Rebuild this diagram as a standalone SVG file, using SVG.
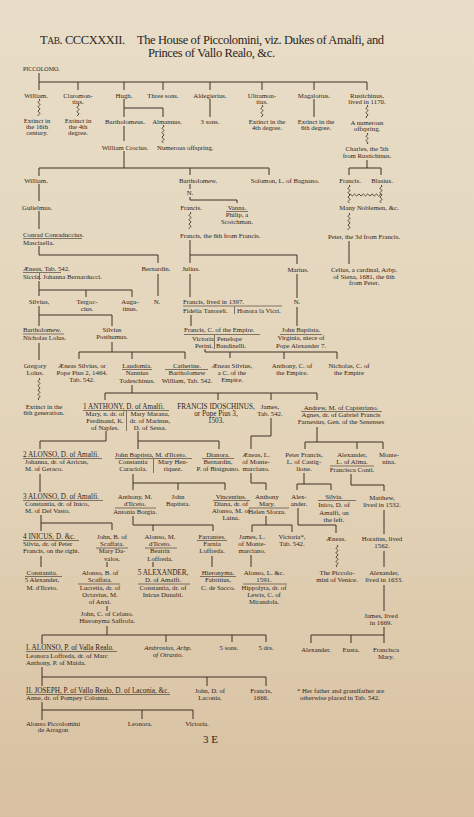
<svg xmlns="http://www.w3.org/2000/svg" xmlns:xlink="http://www.w3.org/1999/xlink" width="474" height="817" viewBox="0 0 474 817">
<style>
.t{font-family:"Liberation Serif","DejaVu Serif",serif;font-size:6.8px;fill:#2e251c;text-anchor:middle}
.s{text-anchor:start}
.i{font-style:italic}
.c{font-size:7.2px}
.ln{stroke:#3e3126;stroke-width:1;fill:none}
.u{stroke:#3e3126;stroke-width:0.6;fill:none}
.w{stroke:#3e3126;stroke-width:0.9;fill:none}
</style>
<defs>
<linearGradient id="bg" x1="0" y1="0" x2="0" y2="1">
<stop offset="0" stop-color="#e8ddc8"/>
<stop offset="0.55" stop-color="#e3d4b9"/>
<stop offset="1" stop-color="#d8c0a1"/>
</linearGradient>
<path id="wv" class="w" d="M2.5,0q2,1.1 0,2.2q-2,1.1 0,2.2q2,1.1 0,2.2q-2,1.1 0,2.2q2,1.1 0,2.2q-2,1.1 0,2.2q2,1.1 0,2.2q-2,1.1 0,2.2q2,1.1 0,2.2q-2,1.1 0,2.2q2,1.1 0,2.2q-2,1.1 0,2.2q2,1.1 0,2.2q-2,1.1 0,2.2q2,1.1 0,2.2q-2,1.1 0,2.2q2,1.1 0,2.2q-2,1.1 0,2.2q2,1.1 0,2.2q-2,1.1 0,2.2q2,1.1 0,2.2q-2,1.1 0,2.2"/>
<path id="wvh" class="w" d="M0,2.5q1.1,-2 2.2,0q1.1,2 2.2,0q1.1,-2 2.2,0q1.1,2 2.2,0q1.1,-2 2.2,0q1.1,2 2.2,0q1.1,-2 2.2,0q1.1,2 2.2,0q1.1,-2 2.2,0q1.1,2 2.2,0q1.1,-2 2.2,0q1.1,2 2.2,0q1.1,-2 2.2,0q1.1,2 2.2,0q1.1,-2 2.2,0q1.1,2 2.2,0"/>
</defs>
<rect width="474" height="817" fill="url(#bg)"/>

<g id="title">
<text class="t s" x="40" y="44" style="font-size:12.5px" textLength="85">T<tspan style="font-size:9.5px">AB</tspan>. CCCXXXII.</text>
<text class="t s" x="137" y="44" style="font-size:12.5px" textLength="247">The House of Piccolomini, viz. Dukes of Amalfi, and</text>
<text class="t s" x="148" y="57" style="font-size:12.5px" textLength="127">Princes of Vallo Realo, &amp;c.</text>
</g>

<g id="connectors">
<path class="ln" d="M39,73V82H367M39,82V90M78,82V90M124,82V90M163,82V90M210,82V90M262,82V90M314,82V90M367,82V90"/>
<path class="ln" d="M124,99V117M124,126V141M124,151V168M124,108H163V117M210,99V117M314,99V117M367,160V168"/>
<path class="ln" d="M39,168H269M39,168V176M190,168V175M269,168V175M349,168H381M349,168V175M381,168V175"/>
<path class="ln" d="M39,184V201M39,211V229M39,246V255H158V263M190,184V189M190,197V200H237V203M190,240V255H297V264M190,255V263M349,241V264"/>
<path class="ln" d="M39,281V296M39,290H132V297M86,290V297M158,274V296M190,274V297M297,274V298M297,307V326M191,315V326"/>
<path class="ln" d="M205,349V352H337M230,352V358M284,352V359M337,352V359"/>
<path class="ln" d="M39,306V326M39,315H112V326M39,343V360M112,342V352M79,352H185M79,352V359M132,352V359M185,352V359"/>
<path class="ln" d="M132,385V393M105,393H317M105,393V400M218,393V400M271,393V400M317,393V400"/>
<path class="ln" d="M106,431V441H40V449M138,431V449M138,441H219V449M317,427V442M305,442H383M305,442V449M357,442V449M383,442V449M271,418V436H251V449"/>
<path class="ln" d="M251,473V483H266V490M304,473V484M297,484H331M297,484V490M331,484V490M351,474V485H384V491M384,510V534"/>
<path class="ln" d="M40,474V492M133,474V490M133,483H225V490M178,483V490"/>
<path class="ln" d="M41,515V531M41,523H112V530M133,516V525H213V531M153,525V531M266,516V525M252,525H292M252,525V532M292,525V532M298,508V525H336V533"/>
<path class="ln" d="M41,556V567M107,562V567M153,562V567M212,556V567M251,555V567M384,551V567M384,585V611M384,627V643M311,635H384M311,635V643M351,635V643"/>
<path class="ln" d="M107,606V611M107,626V635M42,635H266M42,635V644M166,635V642M232,635V642M266,635V642"/>
<path class="ln" d="M42,667V686M42,677H266M207,677V686M266,677V686M42,702V720M42,710H193M142,710V719M193,710V719"/>
<svg x="36.5" y="99" width="5" height="17"><use xlink:href="#wv"/></svg>
<svg x="75.5" y="104" width="5" height="12"><use xlink:href="#wv"/></svg>
<svg x="160.5" y="125" width="5" height="18"><use xlink:href="#wv"/></svg>
<svg x="259.5" y="105" width="5" height="12"><use xlink:href="#wv"/></svg>
<svg x="364.5" y="105" width="5" height="13"><use xlink:href="#wv"/></svg>
<svg x="364.5" y="133" width="5" height="11"><use xlink:href="#wv"/></svg>
<svg x="187.5" y="212" width="5" height="17"><use xlink:href="#wv"/></svg>
<svg x="346.5" y="185" width="5" height="18"><use xlink:href="#wv"/></svg>
<svg x="378.5" y="185" width="5" height="18"><use xlink:href="#wv"/></svg>
<svg x="349" y="192.5" width="32" height="5"><use xlink:href="#wvh"/></svg>
<svg x="346.5" y="213" width="5" height="17"><use xlink:href="#wv"/></svg>
<svg x="36.5" y="378" width="5" height="22"><use xlink:href="#wv"/></svg>
<svg x="334.5" y="545" width="5" height="22"><use xlink:href="#wv"/></svg>
</g>

<g id="n-piccolomo"><text class="t s" x="23" y="70.5" style="font-size:6px">PICCOLOMO.</text></g>
<g id="n-william1"><text class="t" x="36" y="97.5">William.</text></g>
<g id="n-claromontius"><text class="t" x="78" y="97.5">Claromon-<tspan x="78" y="103.5">tius.</tspan></text></g>
<g id="n-hugh"><text class="t" x="124" y="97.5">Hugh.</text></g>
<g id="n-threesons"><text class="t" x="163" y="97.5">Three sons.</text></g>
<g id="n-aldegierius"><text class="t" x="210" y="97.5">Aldegierius.</text></g>
<g id="n-ultramontius"><text class="t" x="262" y="97.5">Ultramon-<tspan x="262" y="103.5">tius.</tspan></text></g>
<g id="n-magalottus"><text class="t" x="314" y="97.5">Magalottus.</text></g>
<g id="n-rustichinus"><text class="t" x="367" y="97.5">Rustichinus,<tspan x="367" y="103.5">lived in 1170.</tspan></text></g>

<g id="n-ext1"><text class="t" x="37" y="122.5">Extinct in<tspan x="37" y="128.5">the 16th</tspan><tspan x="37" y="134.5">century.</tspan></text></g>
<g id="n-ext2"><text class="t" x="78" y="122.5">Extinct in<tspan x="78" y="128.5">the 4th</tspan><tspan x="78" y="134.5">degree.</tspan></text></g>
<g id="n-bartholomeus"><text class="t" x="125" y="123.5">Bartholomeus.</text></g>
<g id="n-almannus"><text class="t" x="167" y="123.5">Almannus.</text></g>
<g id="n-3sons"><text class="t" x="210" y="123.5">3 sons.</text></g>
<g id="n-ext3"><text class="t" x="267" y="123.5">Extinct in the<tspan x="267" y="129.5">4th degree.</tspan></text></g>
<g id="n-ext4"><text class="t" x="316" y="123.5">Extinct in the<tspan x="316" y="129.5">6th degree.</tspan></text></g>
<g id="n-numerous1"><text class="t" x="367" y="124.5">A numerous<tspan x="367" y="130.5">offspring.</tspan></text></g>
<g id="n-crocius"><text class="t" x="125" y="149.5">William Crocius.</text></g>
<g id="n-numerous2"><text class="t s" x="157" y="149.5">Numerous offspring.</text></g>
<g id="n-charles"><text class="t" x="367" y="151">Charles, the 5th<tspan x="367" y="157.5">from Rustichinus.</tspan></text></g>

<g id="n-william2"><text class="t" x="36" y="182.5">William.</text></g>
<g id="n-bartholomew1"><text class="t s" x="179" y="182.5">Bartholomew.</text></g>
<g id="n-solomon"><text class="t" x="285" y="182.5">Solomon, L. of Bagnano.</text></g>
<g id="n-francis-r"><text class="t" x="350" y="182.5">Francis.</text></g>
<g id="n-blasius"><text class="t" x="382" y="182.5">Blasius.</text></g>
<g id="n-n1"><text class="t" x="190" y="195">N.</text></g>
<g id="n-gulielmus"><text class="t" x="37" y="209.5">Gulielmus.</text></g>
<g id="n-francis-b"><text class="t" x="191" y="209.5">Francis.</text></g>
<g id="n-vanna"><text class="t" x="237" y="209.5">Vanna.<tspan x="237" y="217">Philip, a</tspan><tspan x="237" y="224">Scotchman.</tspan></text><path class="u" d="M226,211.5H248"/></g>
<g id="n-noblemen"><text class="t" x="369" y="209.5">Many Noblemen, &amp;c.</text></g>
<g id="n-conrad"><text class="t s" x="23" y="236.5">Conrad Conraduccius.<tspan x="23" y="244.5">Masciaella.</tspan></text><path class="u" d="M23,238.5H82"/></g>
<g id="n-francis6"><text class="t s" x="180" y="237.5">Francis, the 6th from Francis.</text></g>
<g id="n-peter"><text class="t" x="364" y="238.5">Peter, the 3d from Francis.</text></g>

<g id="n-aeneas1"><text class="t s" x="23" y="270.5">Æneas, Tab. 542.<tspan x="23" y="278.5">Siccia.</tspan><tspan x="43" y="278.5">Johanna Bernarducci.</tspan></text><path class="u" d="M23,272.5H61M39.5,273V280"/></g>
<g id="n-bernardin"><text class="t" x="156" y="270.5">Bernardin.</text></g>
<g id="n-julius"><text class="t" x="191" y="270.5">Julius.</text></g>
<g id="n-marius"><text class="t" x="298" y="271.5">Marius.</text></g>
<g id="n-celius"><text class="t" x="364" y="271.5">Celius, a cardinal, Arbp.<tspan x="364" y="278.5">of Siena, 1681, the 6th</tspan><tspan x="364" y="285">from Peter.</tspan></text></g>

<g id="n-silvius"><text class="t" x="39" y="303.5">Silvius,</text></g>
<g id="n-tergoccius"><text class="t" x="87" y="304">Tergoc-<tspan x="87" y="311">cius.</tspan></text></g>
<g id="n-augustinus"><text class="t" x="130" y="304">Augu-<tspan x="130" y="311">tinus.</tspan></text></g>
<g id="n-n2"><text class="t" x="157" y="303.5">N.</text></g>
<g id="n-francis1397"><text class="t s" x="183" y="303.5">Francis, lived in 1397.<tspan x="183" y="312.5">Fidelia Tanoreli.</tspan><tspan x="237" y="312.5">Honora la Vicri.</tspan></text><path class="u" d="M183,306H282M234.5,306.5V314"/></g>
<g id="n-n3"><text class="t" x="297" y="304">N.</text></g>

<g id="n-bartholomew2"><text class="t s" x="23" y="331.5">Bartholomew.<tspan x="23" y="340">Nicholas Lolus.</tspan></text><path class="u" d="M23,334H64"/></g>
<g id="n-posthumus"><text class="t" x="112" y="331.5">Silvius<tspan x="112" y="339">Posthumus.</tspan></text></g>
<g id="n-francisC"><text class="t s" x="184" y="332">Francis, C. of the Empire.<tspan x="192" y="340.5">Victoria</tspan><tspan x="217" y="340.5">Penelope</tspan><tspan x="195" y="347.5">Perini.</tspan><tspan x="216" y="347.5">Bandinelli.</tspan></text><path class="u" d="M184,334.5H260M214.5,335V349"/></g>
<g id="n-johnbaptista1"><text class="t" x="301" y="332">John Baptista.<tspan x="301" y="340">Virginia, niece of</tspan><tspan x="301" y="347.5">Pope Alexander 7.</tspan></text><path class="u" d="M280,334.5H322"/></g>

<g id="n-gregory"><text class="t" x="35" y="367.5">Gregory<tspan x="35" y="374.5">Lolus.</tspan></text></g>
<g id="n-aeneas-pius"><text class="t" x="82" y="367.5">Æneas Silvius, or<tspan x="82" y="374.5">Pope Pius 2, 1464.</tspan><tspan x="82" y="382">Tab. 542.</tspan></text></g>
<g id="n-laudomia"><text class="t" x="137" y="367.5">Laudomia.<tspan x="137" y="375">Nannius</tspan><tspan x="137" y="382.5">Todeschinus.</tspan></text><path class="u" d="M122,369.5H152"/></g>
<g id="n-catherine"><text class="t" x="187" y="367.5">Catherine.<tspan x="187" y="375">Bartholomew</tspan><tspan x="187" y="382.5">William, Tab. 542.</tspan></text><path class="u" d="M165,369.5H208"/></g>
<g id="n-aeneas-c"><text class="t" x="232" y="367.5">Æneas Silvius,<tspan x="232" y="374.5">a C. of the</tspan><tspan x="232" y="382">Empire.</tspan></text></g>
<g id="n-anthonyC"><text class="t" x="292" y="367.5">Anthony, C. of<tspan x="292" y="374.5">the Empire.</tspan></text></g>
<g id="n-nicholasC"><text class="t" x="349" y="367.5">Nicholas, C. of<tspan x="349" y="374.5">the Empire</tspan></text></g>
<g id="n-ext5"><text class="t" x="44" y="408.5">Extinct in the<tspan x="44" y="415">6th generation.</tspan></text></g>

<g id="n-anthony1"><text class="t s c" x="83" y="408.5">1 ANTHONY, D. of Amalfi.</text><text class="t" x="105" y="415.5">Mary, n. dr. of<tspan x="105" y="422.5">Ferdinand, K.</tspan><tspan x="105" y="429.5">of Naples.</tspan></text><text class="t" x="150" y="415.5">Mary Marana,<tspan x="150" y="422.5">dr. of Marinus,</tspan><tspan x="150" y="429.5">D. of Sessa.</tspan></text><path class="u" d="M83,410.5H169M126.5,411V431"/></g>
<g id="n-francis-idoschinus"><text class="t c" x="216" y="408.5">FRANCIS IDOSCHINUS,<tspan x="216" y="415.5">or Pope Pius 3,</tspan><tspan x="216" y="422.5">1503.</tspan></text></g>
<g id="n-james1"><text class="t" x="270" y="408.5">James,<tspan x="270" y="415.5">Tab. 542.</tspan></text></g>
<g id="n-andrew"><text class="t" x="341" y="409.5">Andrew, M. of Capistriano.<tspan x="341" y="417">Agnes, dr. of Gabriel Francis</tspan><tspan x="341" y="424">Farnesius, Gen. of the Senenses</tspan></text><path class="u" d="M301,411.5H382"/></g>

<g id="n-alonso2"><text class="t s c" x="23" y="456.5">2 ALONSO, D. of Amalfi.</text><text class="t s" x="25" y="464">Johanna, dr. of Arricus,<tspan x="25" y="471">M. of Geraco.</tspan></text><path class="u" d="M23,458.5H102"/></g>
<g id="n-johnbaptista2"><text class="t s" x="115" y="456.5">John Baptista, M. d'Ilceto.</text><text class="t" x="133" y="464">Constantia<tspan x="133" y="471">Caraciola.</tspan></text><text class="t" x="173" y="464">Mary Hen-<tspan x="173" y="471">riquez.</tspan></text><path class="u" d="M115,458.5H192M153.5,459V473"/></g>
<g id="n-dianora"><text class="t" x="218" y="456.5">Dianora.<tspan x="218" y="464">Bernardin,</tspan><tspan x="218" y="471">P. of Bisignano.</tspan></text><path class="u" d="M202,458.5H234"/></g>
<g id="n-aeneasL"><text class="t" x="256" y="456.5">Æneas, L.<tspan x="256" y="463.5">of Monte-</tspan><tspan x="256" y="470.5">marciano.</tspan></text></g>
<g id="n-peterfrancis"><text class="t" x="304" y="456.5">Peter Francis,<tspan x="304" y="463.5">L. of Castig-</tspan><tspan x="304" y="470.5">lione.</tspan></text></g>
<g id="n-alexander-alma"><text class="t" x="352" y="456.5">Alexander,<tspan x="352" y="463.5">L. of Alma.</tspan><tspan x="352" y="471.5">Francisca Conti.</tspan></text><path class="u" d="M330,466H374"/></g>
<g id="n-montenina"><text class="t" x="389" y="456.5">Monte-<tspan x="389" y="463.5">nina.</tspan></text></g>

<g id="n-alonso3"><text class="t s c" x="23" y="498.5">3 ALONSO, D. of Amalfi.</text><text class="t s" x="25" y="506">Constantia, dr. of Inico,<tspan x="25" y="513">M. of Del Vasto.</tspan></text><path class="u" d="M23,500.5H103"/></g>
<g id="n-anthonyM"><text class="t" x="135" y="498.5">Anthony, M.<tspan x="135" y="505.5">d'Ilceto.</tspan><tspan x="135" y="513.5">Antonia Borgia.</tspan></text><path class="u" d="M115,508H156"/></g>
<g id="n-johnbaptista3"><text class="t" x="178" y="498.5">John<tspan x="178" y="505.5">Baptista.</tspan></text></g>
<g id="n-vincentius"><text class="t" x="231" y="498.5">Vincentius.<tspan x="231" y="506">Diana, dr. of</tspan><tspan x="231" y="513">Alonso, M. of</tspan><tspan x="231" y="520">Laina.</tspan></text><path class="u" d="M213,500.5H250"/></g>
<g id="n-anthonymary"><text class="t" x="267" y="498.5">Anthony<tspan x="267" y="505.5">Mary.</tspan><tspan x="267" y="513.5">Helen Sforza.</tspan></text><path class="u" d="M249,508H289"/></g>
<g id="n-alexander2"><text class="t" x="299" y="498.5">Alex-<tspan x="299" y="505.5">ander.</tspan></text></g>
<g id="n-silvia"><text class="t" x="334" y="498.5">Silvia.<tspan x="334" y="507">Inico, D. of</tspan><tspan x="334" y="514.5">Amalfi, on</tspan><tspan x="334" y="521.5">the left.</tspan></text><path class="u" d="M318,500.5H356"/></g>
<g id="n-matthew"><text class="t" x="382" y="499.5">Matthew,<tspan x="382" y="507">lived in 1532.</tspan></text></g>

<g id="n-inicus4"><text class="t s c" x="23" y="538.5">4 INICUS, D. &amp;c.</text><text class="t s" x="23" y="545.5">Silvia, dr. of Peter<tspan x="23" y="553">Francis, on the right.</tspan></text><path class="u" d="M23,540.5H79"/></g>
<g id="n-johnB"><text class="t" x="112" y="538.5">John, B. of<tspan x="112" y="545.5">Scaffata.</tspan><tspan x="112" y="553">Mary Da-</tspan><tspan x="112" y="560.5">valos.</tspan></text><path class="u" d="M96,548H128"/></g>
<g id="n-alonsoM"><text class="t" x="160" y="538.5">Alonso, M.<tspan x="160" y="545.5">d'Ilceto.</tspan><tspan x="160" y="553">Beatrix</tspan><tspan x="160" y="560.5">Loffreda.</tspan></text><path class="u" d="M145,548H177"/></g>
<g id="n-farrantes"><text class="t" x="212" y="538.5">Farrantes.<tspan x="212" y="545.5">Farnia</tspan><tspan x="212" y="553">Loffreda.</tspan></text><path class="u" d="M197,540.5H227"/></g>
<g id="n-jamesL"><text class="t" x="252" y="538.5">James, L.<tspan x="252" y="545.5">of Monte-</tspan><tspan x="252" y="552.5">marciano.</tspan></text></g>
<g id="n-victoria1"><text class="t" x="292" y="538.5">Victoria*,<tspan x="292" y="545.5">Tab. 542.</tspan></text></g>
<g id="n-aeneas3"><text class="t" x="336" y="540.5">Æneas.</text></g>
<g id="n-horatius"><text class="t" x="382" y="540.5">Horatius, lived<tspan x="382" y="548">1562.</tspan></text></g>

<g id="n-constantia"><text class="t" x="42" y="574.5">Constantia.<tspan x="42" y="582">5 Alexander,</tspan><tspan x="42" y="589.5">M. d'Ilceto.</tspan></text><path class="u" d="M25,576.5H62"/></g>
<g id="n-alonsoB"><text class="t" x="100" y="574.5">Alonso, B. of<tspan x="100" y="581.5">Scaffata.</tspan><tspan x="100" y="589.5">Lucretia, dr. of</tspan><tspan x="100" y="596.5">Octavius, M.</tspan><tspan x="100" y="603.5">of Anxi.</tspan></text><path class="u" d="M78,584H120"/></g>
<g id="n-alexander5"><text class="t c" x="163" y="574.5">5 ALEXANDER,</text><text class="t" x="163" y="581.5">D. of Amalfi.<tspan x="163" y="589.5">Constantia, dr. of</tspan><tspan x="163" y="596.5">Inicus Dunalti.</tspan></text><path class="u" d="M138,584H190"/></g>
<g id="n-hieronyma"><text class="t" x="218" y="574.5">Hieronyma.<tspan x="218" y="582">Fabritius,</tspan><tspan x="218" y="589.5">C. de Sacco.</tspan></text><path class="u" d="M200,576.5H236"/></g>
<g id="n-alonsoL"><text class="t" x="264" y="574.5">Alonso, L. &amp;c.<tspan x="264" y="581.5">1591.</tspan><tspan x="264" y="589.5">Hippolyta, dr. of</tspan><tspan x="264" y="596.5">Lewis, C. of</tspan><tspan x="264" y="603.5">Mirandola.</tspan></text><path class="u" d="M243,584H287"/></g>
<g id="n-venice"><text class="t" x="337" y="574.5">The Piccolo-<tspan x="337" y="581.5">mini of Venice.</tspan></text></g>
<g id="n-alexander1633"><text class="t" x="384" y="574.5">Alexander,<tspan x="384" y="581.5">lived in 1633.</tspan></text></g>

<g id="n-johnC"><text class="t" x="107" y="615.5">John, C. of Celano.<tspan x="107" y="623">Hieronyma Saffrola.</tspan></text></g>
<g id="n-james1669"><text class="t" x="381" y="617.5">James, lived<tspan x="381" y="624.5">in 1669.</tspan></text></g>

<g id="n-alonsoI"><text class="t s c" x="26" y="649.5">I. ALONSO, P. of Valla Realo.</text><text class="t s" x="26" y="657.5">Leonora Loffreda, dr. of Marc<tspan x="26" y="664.5">Anthony, P. of Maida.</tspan></text><path class="u" d="M26,651.5H117"/></g>
<g id="n-ambrosius"><text class="t i" x="168" y="649.5">Ambrosius, Arbp.<tspan x="168" y="657">of Otranto.</tspan></text></g>
<g id="n-5sons"><text class="t" x="229" y="649.5">5 sons.</text></g>
<g id="n-5drs"><text class="t" x="266" y="649.5">5 drs.</text></g>
<g id="n-alexander3"><text class="t" x="316" y="651.5">Alexander.</text></g>
<g id="n-eusta"><text class="t" x="351" y="651.5">Eusta.</text></g>
<g id="n-franciscamary"><text class="t" x="386" y="651.5">Francisca<tspan x="386" y="659">Mary.</tspan></text></g>

<g id="n-joseph"><text class="t s c" x="26" y="692.5">II. JOSEPH, P. of Vallo Realo, D. of Laconia, &amp;c.</text><text class="t s" x="26" y="699.5">Anne, dr. of Pompey Colonna.</text><path class="u" d="M26,694.5H170"/></g>
<g id="n-johnD"><text class="t" x="210" y="692.5">John, D. of<tspan x="210" y="699.5">Laconia.</tspan></text></g>
<g id="n-francis1666"><text class="t" x="261" y="692.5">Francis,<tspan x="261" y="699.5">1666.</tspan></text></g>
<g id="footnote"><text class="t s" x="297" y="692.5">* Her father and grandfather are<tspan x="300" y="699.5">otherwise placed in Tab. 542.</tspan></text></g>
<g id="n-alonsoPA"><text class="t" x="53" y="725.5">Alonso Piccolomini<tspan x="53" y="731.5">de Arragon</tspan></text></g>
<g id="n-leonora"><text class="t" x="140" y="725.5">Leonora.</text></g>
<g id="n-victoria2"><text class="t" x="197" y="725.5">Victoria.</text></g>
<g id="signature"><text class="t s" x="203" y="743" style="font-size:11px">3 E</text></g>
</svg>
